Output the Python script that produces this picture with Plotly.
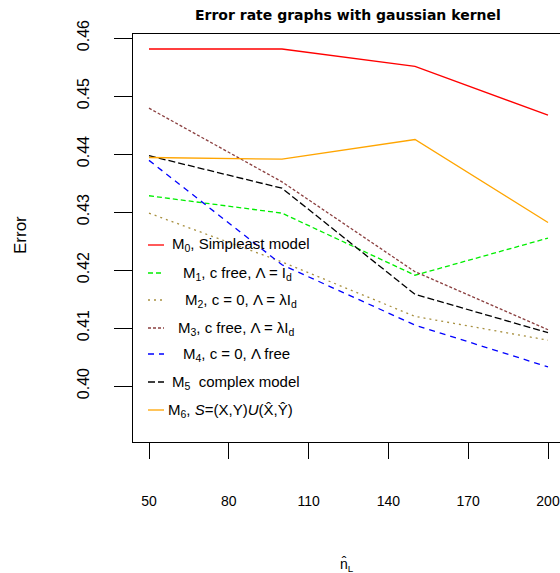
import plotly.graph_objects as go

# sample sizes on the x axis
n_l = [50, 100, 150, 200]

# error rates
err_m0 = [0.4581, 0.4581, 0.4551, 0.4467]
err_m1 = [0.4328, 0.4298, 0.4191, 0.4255]
err_m2 = [0.4298, 0.4214, 0.4120, 0.4079]
err_m3 = [0.4479, 0.4352, 0.4197, 0.4097]
err_m4 = [0.4389, 0.4209, 0.4105, 0.4033]
err_m5 = [0.4397, 0.4341, 0.4158, 0.4092]
err_m6 = [0.4394, 0.4391, 0.4425, 0.4282]

x_ticks = [50, 80, 110, 140, 170, 200]
y_ticks = [0.40, 0.41, 0.42, 0.43, 0.44, 0.45, 0.46]
y_tick_labels = ["0.40", "0.41", "0.42", "0.43", "0.44", "0.45", "0.46"]

legend_labels = [
    "M<sub>0</sub>, Simpleast model",
    "M<sub>1</sub>, c free, Λ = I<sub>d</sub>",
    "M<sub>2</sub>, c = 0, Λ = λI<sub>d</sub>",
    "M<sub>3</sub>, c free, Λ = λI<sub>d</sub>",
    "M<sub>4</sub>, c = 0, Λ free",
    "M<sub>5</sub>  complex model",
    "M<sub>6</sub>, <i>S</i>=(X,Y)<i>U</i>(X\u0302,Y\u0302)",
]

series = [err_m0, err_m1, err_m2, err_m3, err_m4, err_m5, err_m6]
colors = ["#ff0000", "#00ee00", "#a89040", "#8b4040", "#0000ff", "#000000", "#ffa500"]
dashes = ["solid", "5px,3px", "2px,4px", "3px,2px", "6px,5px", "7px,3px", "solid"]

W, H = 560, 573
# plot area in page pixels
L, R, T, B = 133, 560, 34, 442


def px(x, y):
    return (x - L) / (R - L), (B - y) / (B - T)


fig = go.Figure()
for vals, col, dash, lab in zip(series, colors, dashes, legend_labels):
    fig.add_trace(go.Scatter(x=n_l, y=vals, mode="lines", name=lab,
                             line=dict(color=col, width=1.3, dash=dash)))

# hand-made legend in the R style
row_y = [245, 273, 300, 328, 354, 382, 410]
text_x = [170, 181, 183, 176, 181, 170, 166]
for lab, col, dash, yy, tx in zip(legend_labels, colors, dashes, row_y, text_x):
    x0, y0 = px(148, yy)
    x1, _ = px(164, yy)
    fig.add_shape(type="line", xref="paper", yref="paper", x0=x0, x1=x1, y0=y0, y1=y0,
                  line=dict(color=col, width=1.3, dash=dash))
    ax, ay = px(tx, yy)
    fig.add_annotation(text=lab, xref="paper", yref="paper", x=ax, y=ay,
                       xanchor="left", yanchor="middle", showarrow=False,
                       font=dict(size=15, color="black"))

tx, ty = px(348, 15)
fig.add_annotation(text="<b>Error rate graphs with gaussian kernel</b>", xref="paper", yref="paper",
                   x=tx, y=ty, showarrow=False, xanchor="center", yanchor="middle",
                   font=dict(family="DejaVu Sans", size=14, color="black"))
ex, ey = px(20, 235)
fig.add_annotation(text="Error", xref="paper", yref="paper", x=ex, y=ey, textangle=-90,
                   showarrow=False, xanchor="center", yanchor="middle", font=dict(size=17))
nx, ny = px(347, 565)
fig.add_annotation(text="n\u0302<sub>L</sub>", xref="paper", yref="paper", x=nx, y=ny,
                   showarrow=False, xanchor="center", yanchor="middle", font=dict(size=14))

fig.update_layout(
    width=W, height=H, showlegend=False,
    margin=dict(l=L, r=W - R, t=T, b=H - B, pad=0),
    paper_bgcolor="white", plot_bgcolor="white",
    font=dict(family="Liberation Sans, Arial, sans-serif", color="black"),
)
fig.update_xaxes(range=[50 - 16 / 2.66, 200 + 12 / 2.66], tickvals=x_ticks, ticks="outside",
                 ticklen=16, tickwidth=1.3, tickcolor="black", showline=True, linecolor="black",
                 linewidth=1.3, mirror=True, showgrid=False, zeroline=False,
                 ticklabelstandoff=30, tickfont=dict(size=14))
fig.update_yaxes(range=[0.40 - 56 / 5800, 0.46 + 4 / 5800], tickvals=y_ticks, ticktext=y_tick_labels,
                 ticks="outside", ticklen=18, tickwidth=1.3, tickcolor="black", showline=True,
                 linecolor="black", linewidth=1.3, showgrid=False, zeroline=False, tickangle=-90,
                 ticklabelstandoff=18, tickfont=dict(size=16))

# drop the default 8px body margin so the figure fills the window
fig.write_html("out.html", config={"displayModeBar": False},
               post_script="document.body.style.margin='0';")
